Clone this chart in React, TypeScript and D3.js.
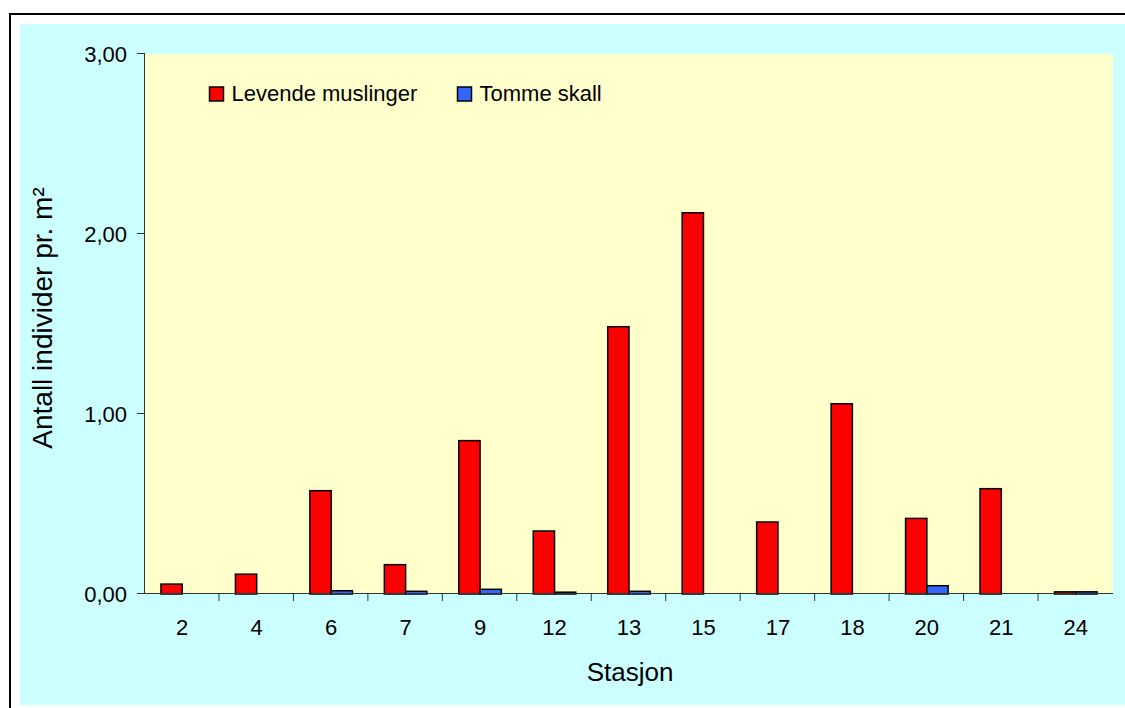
import React from "react";
import * as d3 from "d3";

const stations = ["2", "4", "6", "7", "9", "12", "13", "15", "17", "18", "20", "21", "24"];
const levende = [0.055, 0.11, 0.574, 0.163, 0.852, 0.35, 1.485, 2.118, 0.4, 1.057, 0.42, 0.585, 0.012];
const tomme = [0, 0, 0.018, 0.015, 0.026, 0.01, 0.015, 0, 0, 0, 0.046, 0, 0.012];
const yTicks = [0, 1, 2, 3];
const seriesNames = ["Levende muslinger", "Tomme skall"];
const seriesColors = ["#FF0000", "#3366FF"];

export default function App() {
  const W = 1125, H = 708;
  const left = 145, right = 1113, top = 54, bottom = 594;
  const x = d3.scaleBand<string>().domain(stations).range([left, right]).paddingInner(0).paddingOuter(0);
  const y = d3.scaleLinear().domain([0, 3]).range([bottom, top]);
  const bw = x.bandwidth() / 3.5;
  const fmt = (v: number) => v.toFixed(2).replace(".", ",");
  const font = "'Liberation Sans', Arial, sans-serif";
  const series = [levende, tomme];
  return (
    <svg width={W} height={H} style={{ position: "absolute", left: 0, top: 0 }} fontFamily={font}>
      <rect x={0} y={0} width={W} height={H} fill="#ffffff" />
      <rect x={10} y={14} width={W + 20} height={H + 20} fill="none" stroke="#000" strokeWidth={2} />
      <rect x={20} y={24} width={W - 20} height={681} fill="#CCFFFF" />
      <rect x={left} y={top} width={right - left} height={bottom - top} fill="#FFFFCC" />
      {series.map((vals, si) =>
        vals.map((v, i) => {
          if (v <= 0) return null;
          const cx = (x(stations[i]) as number) + x.bandwidth() / 2;
          const x0 = cx - bw + si * bw;
          return (
            <rect key={si + "-" + i} x={x0} y={y(v)} width={bw} height={bottom - y(v)}
              fill={seriesColors[si]} stroke="#000" strokeWidth={1.5} />
          );
        })
      )}
      <line x1={left - 0.5} x2={left - 0.5} y1={top} y2={bottom} stroke="#333" strokeWidth={1} />
      <line x1={left - 8} x2={right} y1={bottom - 0.5} y2={bottom - 0.5} stroke="#333" strokeWidth={1} />
      {yTicks.map((t) => (
        <g key={t}>
          <line x1={left - 8} x2={left} y1={y(t) - 0.5} y2={y(t) - 0.5} stroke="#333" />
          <text x={127} y={y(t) + 7.5} textAnchor="end" fontSize={22} fill="#000">{fmt(t)}</text>
        </g>
      ))}
      {stations.map((s, i) => (
        <g key={s}>
          {i > 0 && (
            <line x1={(x(s) as number) - 0.5} x2={(x(s) as number) - 0.5} y1={bottom} y2={bottom + 7} stroke="#333" />
          )}
          <text x={(x(s) as number) + x.bandwidth() / 2} y={635} textAnchor="middle" fontSize={22} fill="#000">{s}</text>
        </g>
      ))}
      <text x={630} y={681} textAnchor="middle" fontSize={26} fill="#000">Stasjon</text>
      <text transform={`translate(52, 318) rotate(-90)`} textAnchor="middle" fontSize={28} fill="#000">
        Antall individer pr. m²
      </text>
      {seriesNames.map((n, i) => {
        const lx = i === 0 ? 209.5 : 457.5;
        return (
          <g key={n}>
            <rect x={lx} y={87} width={14} height={14} fill={seriesColors[i]} stroke="#000" strokeWidth={1.5} />
            <text x={lx + 22} y={101} fontSize={22} fill="#000">{n}</text>
          </g>
        );
      })}
    </svg>
  );
}
